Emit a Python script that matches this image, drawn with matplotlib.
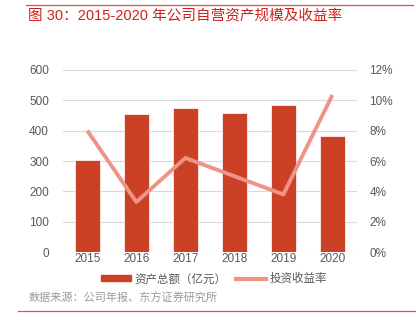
import matplotlib
matplotlib.use("Agg")
from matplotlib import pyplot as plt
from matplotlib.lines import Line2D
from matplotlib.patches import Patch

plt.rcParams['font.family'] = ['Noto Sans CJK SC', 'DejaVu Sans']

years = ['2015', '2016', '2017', '2018', '2019', '2020']
assets = [303, 455, 474, 457, 486, 381]          # 资产总额（亿元）
returns = [8.0, 3.3, 6.2, 5.0, 3.8, 10.35]       # 投资收益率 (%)

bar_color = '#CC4125'
line_color = '#EE9386'
grid_color = '#DADADA'
text_color = '#595959'
num_font = ['Liberation Sans', 'DejaVu Sans']

fig = plt.figure(figsize=(4.16, 3.33), dpi=100)
ax = fig.add_axes([0.151, 0.243, 0.707, 0.547])
ax2 = ax.twinx()

xs = range(len(years))
ax.bar(xs, assets, width=0.5, color=bar_color, edgecolor='white', linewidth=0.5, zorder=2)
ax2.plot(xs, returns, color=line_color, linewidth=2.8, zorder=3, solid_capstyle='butt')

ax.set_xlim(-0.5, 5.5)
ax.set_ylim(0, 600)
ax.set_yticks(range(0, 601, 100))
ax2.set_ylim(0, 12)
ax2.set_yticks(range(0, 13, 2))
ax2.set_yticklabels(['%d%%' % v for v in range(0, 13, 2)])
ax.set_xticks(list(xs))
ax.set_xticklabels(years)

ax.yaxis.grid(True, color=grid_color, linewidth=0.8, zorder=0)
ax.set_axisbelow(True)
for a in (ax, ax2):
    for s in a.spines.values():
        s.set_visible(False)
    a.tick_params(length=0, labelsize=8.5, colors=text_color)
    for lab in a.get_xticklabels() + a.get_yticklabels():
        lab.set_family(num_font)
ax.tick_params(axis='y', pad=10)
ax2.tick_params(axis='y', pad=9)
ax.tick_params(axis='x', pad=1)

handles = [Patch(color=bar_color), Line2D([], [], color=line_color, linewidth=3)]
fig.legend(handles, ['资产总额（亿元）', '投资收益率'], loc='center', bbox_to_anchor=(0.515, 0.163),
           ncol=2, frameon=False, fontsize=8.3, handlelength=2.6, handleheight=0.5,
           columnspacing=0.8, handletextpad=0.3, labelcolor=text_color)

# title, rules and source
fig.add_artist(Line2D([0.062, 0.993], [0.985, 0.985], color='#D9534F', linewidth=0.9))
fig.text(0.068, 0.952, '图 30：2015-2020 年公司自营资产规模及收益率', color='#D0201A',
         fontsize=10.5, va='center', ha='left',
         family=['Liberation Sans', 'Noto Sans CJK SC'])
fig.text(0.068, 0.105, '数据来源：公司年报、东方证券研究所', color='#9A9A9A', fontsize=8,
         va='center', ha='left')
fig.add_artist(Line2D([0.043, 1.0], [0.066, 0.066], color='#D9534F', linewidth=0.9))

plt.savefig('out.png', dpi=100)
